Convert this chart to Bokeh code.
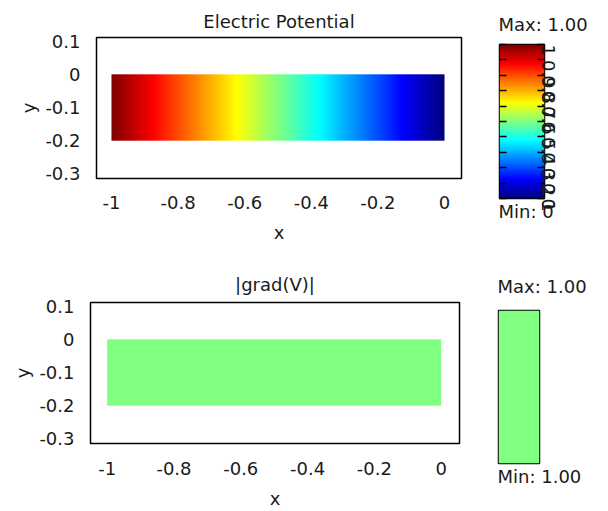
import numpy as np
from bokeh.plotting import figure
from bokeh.layouts import column, row
from bokeh.models import LinearColorMapper, FixedTicker, LinearAxis, Title, Range1d
from bokeh.embed import file_html
from bokeh.resources import INLINE

# ---------------- data ----------------
x_nodes = [-1.0, -0.9, -0.8, -0.7, -0.6, -0.5, -0.4, -0.3, -0.2, -0.1, 0.0]
v_nodes = [1.0, 0.9, 0.8, 0.7, 0.6, 0.5, 0.4, 0.3, 0.2, 0.1, 0.0]
grad_nodes = [1.0, 1.0, 1.0, 1.0, 1.0, 1.0, 1.0, 1.0, 1.0, 1.0, 1.0]
domain_x = [-1.0, 0.0]
domain_y = [-0.2, 0.0]
panel_titles = ["Electric Potential", "|grad(V)|"]
x_ticks = [-1.0, -0.8, -0.6, -0.4, -0.2, 0.0]
x_tick_labels = ["-1", "-0.8", "-0.6", "-0.4", "-0.2", "0"]
y_ticks = [0.1, 0.0, -0.1, -0.2, -0.3]
y_tick_labels = ["0.1", "0", "-0.1", "-0.2", "-0.3"]
cb_ticks = [0.0, 0.1, 0.2, 0.3, 0.4, 0.5, 0.6, 0.7, 0.8, 0.9, 1.0]
cb_tick_labels = ["0", "0.1", "0.2", "0.3", "0.4", "0.5", "0.6", "0.7", "0.8", "0.9", "1"]

FONT = "DejaVu Sans"
FS = "18px"
TXT = "#1a1a1a"


def jet(n):
    t = np.linspace(0, 1, n)
    r = np.clip(1.5 - np.abs(4 * t - 3), 0, 1)
    g = np.clip(1.5 - np.abs(4 * t - 2), 0, 1)
    b = np.clip(1.5 - np.abs(4 * t - 1), 0, 1)
    return ["#%02x%02x%02x" % (int(round(a * 255)), int(round(c * 255)), int(round(d * 255)))
            for a, c, d in zip(r, g, b)]


PALETTE = jet(257)


def mapper_for(vals):
    lo, hi = min(vals), max(vals)
    if hi - lo < 1e-12:
        lo, hi = lo - 0.5, hi + 0.5
    return LinearColorMapper(palette=PALETTE, low=lo, high=hi), min(vals), max(vals)


def style_axis(ax, ticks, labels):
    ax.ticker = FixedTicker(ticks=ticks)
    ax.major_label_overrides = {t: l for t, l in zip(ticks, labels)}
    ax.major_tick_in = 0
    ax.major_tick_out = 0
    ax.minor_tick_in = 0
    ax.minor_tick_out = 0
    ax.axis_line_color = None
    ax.major_label_text_font = FONT
    ax.major_label_text_font_size = FS
    ax.major_label_text_color = TXT
    ax.axis_label_text_font = FONT
    ax.axis_label_text_font_size = FS
    ax.axis_label_text_font_style = "normal"
    ax.axis_label_text_color = TXT


def main_panel(title, vals, width, height, bl, bt, br, bb, xr, yr,
               title_off, xl_off, xal_off):
    p = figure(width=width, height=height, x_range=Range1d(*xr), y_range=Range1d(*yr),
               output_backend="svg", toolbar_location=None,
               min_border_left=bl, min_border_top=bt, min_border_right=br, min_border_bottom=bb,
               x_axis_label="x", y_axis_label="y")
    p.grid.visible = False
    p.outline_line_color = "black"
    p.outline_line_width = 1.5
    p.background_fill_color = "white"
    p.border_fill_color = "white"
    p.title.text = title
    p.title.align = "center"
    p.title.text_font = FONT
    p.title.text_font_size = FS
    p.title.text_font_style = "normal"
    p.title.text_color = TXT
    p.title.standoff = title_off
    style_axis(p.xaxis[0], x_ticks, x_tick_labels)
    style_axis(p.yaxis[0], y_ticks, y_tick_labels)
    p.xaxis[0].major_label_standoff = xl_off
    p.xaxis[0].axis_label_standoff = xal_off
    p.yaxis[0].major_label_standoff = 16
    p.yaxis[0].axis_label_standoff = 3

    mapper, vmin, vmax = mapper_for(vals)
    xs = np.linspace(domain_x[0], domain_x[1], 600)
    shade = np.interp(xs, x_nodes, vals)  # linear element shading of nodal values
    img = np.vstack([shade, shade])
    p.image(image=[img], x=domain_x[0], y=domain_y[0], dw=domain_x[1] - domain_x[0],
            dh=domain_y[1] - domain_y[0], color_mapper=mapper)
    return p, mapper, vmin, vmax


def colorbar_panel(mapper, vmin, vmax, min_text, width, height, bl, bt, br, bb, with_ticks,
                   top_off, bot_gap):
    p = figure(width=width, height=height, x_range=Range1d(0, 1), y_range=Range1d(0, 1),
               output_backend="svg", toolbar_location=None,
               x_axis_type=None, y_axis_type=None,
               min_border_left=bl, min_border_top=bt, min_border_right=br, min_border_bottom=bb)
    p.grid.visible = False
    p.outline_line_color = "black"
    p.outline_line_width = 1.5
    p.border_fill_color = "white"
    if with_ticks:
        levels = np.linspace(mapper.low, mapper.high, 256)[:, None]
    else:
        levels = np.full((2, 2), vmax)
    p.image(image=[np.hstack([levels, levels])], x=0, y=0, dw=1, dh=1, color_mapper=mapper)
    top = Title(text="Max: %.2f" % vmax, align="left", text_font=FONT, text_font_size=FS,
                text_font_style="normal", text_color=TXT, standoff=top_off, offset=-1)
    p.add_layout(top, "above")
    # outer: the Min text; inner (added last, nearest the bar): an invisible spacer
    bot = Title(text=min_text, align="left", text_font=FONT, text_font_size=FS,
                text_font_style="normal", text_color=TXT, standoff=0, offset=-1)
    p.add_layout(bot, "below")
    spacer = Title(text=".", align="left", text_font=FONT, text_font_size="1px",
                   text_font_style="normal", text_color="white", text_alpha=0.0,
                   standoff=bot_gap)
    p.add_layout(spacer, "below")
    if with_ticks:
        for side in ("left", "right"):
            ax = LinearAxis(ticker=FixedTicker(ticks=cb_ticks))
            ax.axis_line_color = None
            ax.major_tick_in = 7
            ax.major_tick_out = 0
            ax.minor_tick_in = 0
            ax.minor_tick_out = 0
            ax.major_tick_line_width = 1.5
            ax.major_tick_line_color = "black"
            if side == "left":
                ax.major_label_overrides = {t: "" for t in cb_ticks}
                ax.major_label_text_font_size = "1px"
                ax.major_label_standoff = 0
            else:
                ax.major_label_overrides = {t: l for t, l in zip(cb_ticks, cb_tick_labels)}
                ax.major_label_text_font = FONT
                ax.major_label_text_font_size = FS
                ax.major_label_text_color = TXT
                ax.major_label_orientation = -np.pi / 2
                ax.major_label_standoff = 4
            p.add_layout(ax, side)
    return p


p1, m1, vmin1, vmax1 = main_panel(panel_titles[0], v_nodes, 480, 255, 96, 37, 19, 77,
                                  (-1.045, 0.051), (-0.314, 0.111), 12, 17, 10)
c1 = colorbar_panel(m1, vmin1, vmax1, "Min: %g" % vmin1, 128, 255, 19, 44, 64, 57, True, 20, 20)

p2, m2, vmin2, vmax2 = main_panel(panel_titles[1], grad_nodes, 480, 256, 90, 47, 21, 68,
                                  (-1.05, 0.055), (-0.314, 0.111), 15, 18, 10)
c2 = colorbar_panel(m2, vmin2, vmax2, "Min: %.2f" % vmin2, 128, 256, 18, 55, 69, 48, False, 27, 22)

layout = column(row(column(p1), column(c1), spacing=0),
                row(column(p2), column(c2), spacing=0), spacing=0)
open("out.html", "w").write(file_html(layout, INLINE))
